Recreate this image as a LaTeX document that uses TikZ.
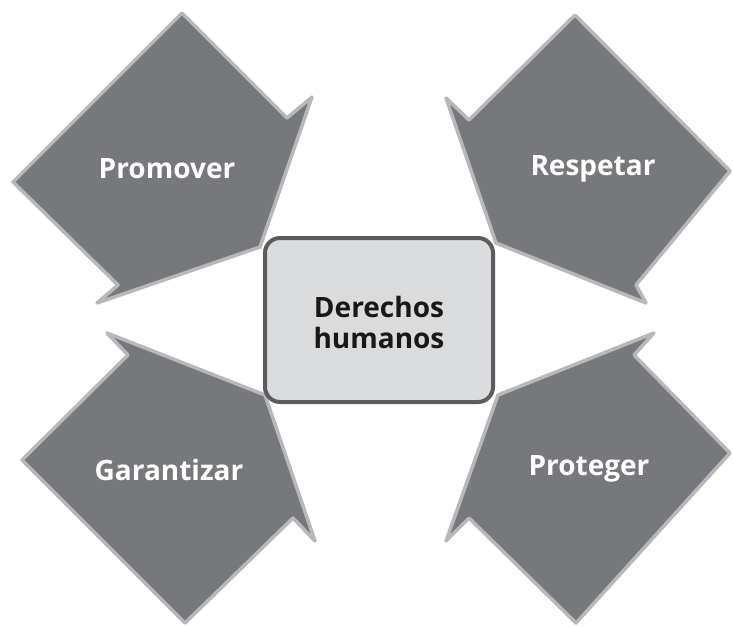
\documentclass[tikz,border=0pt]{standalone}
\usepackage{fontspec}
\setmainfont{Open Sans}
\definecolor{arrowfill}{HTML}{77787B}
\definecolor{arrowedge}{HTML}{B7B8BA}
\definecolor{boxfill}{HTML}{DADBDC}
\definecolor{boxedge}{HTML}{5C5C5E}
\definecolor{txtdark}{HTML}{1A1718}
\begin{document}
\begin{tikzpicture}[x=1pt,y=-1pt,
  arrowshape/.style={fill=arrowfill,draw=arrowedge,line width=3.5pt,line join=round},
  arrowlabel/.style={text=white,font=\bfseries\fontsize{28}{31}\selectfont},
  centerbox/.style={fill=boxfill,draw=boxedge,line width=4pt,rounded corners=15pt}]
\useasboundingbox (0,0) rectangle (733,626);
% Promover
\draw[arrowshape] (182,13) -- (287,118) -- (312,97) -- (260,247) -- (97,303) -- (118,285) -- (13,182) -- cycle;
% Respetar
\draw[arrowshape] (575,15) -- (730,171) -- (636,285) -- (646,303) -- (496,243) -- (446,98) -- (469,120) -- cycle;
% Garantizar
\draw[arrowshape] (22,460) -- (128,355) -- (107,333) -- (265,395) -- (315,541) -- (293,518) -- (185,623) -- cycle;
% Proteger
\draw[arrowshape] (498,395) -- (654,333) -- (634,355) -- (730,453) -- (576,623) -- (469,518) -- (446,541) -- cycle;
\draw[centerbox] (265,238) rectangle (493,402);
\node[font=\bfseries\fontsize{28}{31}\selectfont,text=txtdark,align=center] (center) at (379,322) {Derechos\\humanos};
\node[arrowlabel] (promover) at (167,169) {Promover};
\node[arrowlabel] (respetar) at (593,169) {Respetar};
\node[arrowlabel] (garantizar) at (169,470) {Garantizar};
\node[arrowlabel] (proteger) at (589,469) {Proteger};
\end{tikzpicture}
\end{document}
